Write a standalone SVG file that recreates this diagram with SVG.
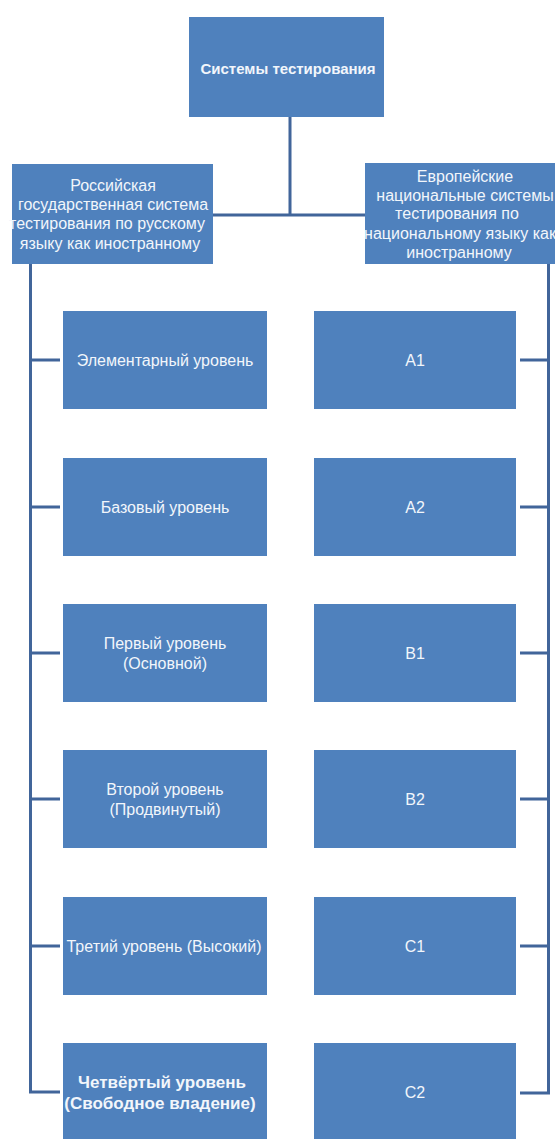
<svg xmlns="http://www.w3.org/2000/svg" width="555" height="1139" viewBox="0 0 555 1139">
<style>
.box{fill:#4F81BD;}
.t{font-family:"Liberation Sans",Arial,sans-serif;font-size:16px;fill:#F2F6FB;text-anchor:middle;dominant-baseline:central;}
.b{font-weight:bold;font-size:15px;}
.b2{font-weight:bold;font-size:17px;}
.c{fill:none;stroke:#41659A;stroke-width:3;}
</style>
<rect width="555" height="1139" fill="#fff"/>
<g id="connectors">
<path class="c" d="M290,117 V215 M213,215 H365"/>
<path class="c" d="M30.5,264 V1092 H60 M30.5,360 H60 M30.5,507 H60 M30.5,653 H60 M30.5,799 H60 M30.5,946 H60"/>
<path class="c" d="M548.5,264 V1093 H520 M548.5,360 H520 M548.5,507 H520 M548.5,653 H520 M548.5,799 H520 M548.5,946 H520"/>
</g>
<g id="root"><rect class="box" x="189" y="17" width="195" height="100"/><text class="t b" x="288" y="68">Системы тестирования</text></g>
<g id="ru"><rect class="box" x="12" y="164" width="201" height="100"/>
<text class="t"><tspan x="113" y="185">Российская</tspan><tspan x="113" y="204">государственная система</tspan><tspan x="107" y="223">тестирования по русскому</tspan><tspan x="110" y="243">языку как иностранному</tspan></text></g>
<g id="eu"><rect class="box" x="365" y="163" width="200" height="101"/>
<text class="t"><tspan x="465" y="176">Европейские</tspan><tspan x="465" y="195">национальные системы</tspan><tspan x="457" y="213">тестирования по</tspan><tspan x="460" y="233">национальному языку как</tspan><tspan x="459" y="252">иностранному</tspan></text></g>
<g id="l1"><rect class="box" x="63" y="311" width="204" height="98"/><text class="t" x="165" y="360">Элементарный уровень</text></g>
<g id="l2"><rect class="box" x="63" y="458" width="204" height="98"/><text class="t" x="165" y="507">Базовый уровень</text></g>
<g id="l3"><rect class="box" x="63" y="604" width="204" height="98"/><text class="t"><tspan x="165" y="643">Первый уровень</tspan><tspan x="165" y="663">(Основной)</tspan></text></g>
<g id="l4"><rect class="box" x="63" y="750" width="204" height="98"/><text class="t"><tspan x="165" y="789">Второй уровень</tspan><tspan x="165" y="809">(Продвинутый)</tspan></text></g>
<g id="l5"><rect class="box" x="63" y="897" width="204" height="98"/><text class="t" x="164" y="946">Третий уровень (Высокий)</text></g>
<g id="l6"><rect class="box" x="63" y="1043" width="204" height="98"/><text class="t b2"><tspan x="162" y="1082">Четвёртый уровень</tspan><tspan x="160" y="1103">(Свободное владение)</tspan></text></g>
<g id="a1"><rect class="box" x="314" y="311" width="202" height="98"/><text class="t" x="415" y="360">A1</text></g>
<g id="a2"><rect class="box" x="314" y="458" width="202" height="98"/><text class="t" x="415" y="507">A2</text></g>
<g id="b1"><rect class="box" x="314" y="604" width="202" height="98"/><text class="t" x="415" y="653">B1</text></g>
<g id="b2"><rect class="box" x="314" y="750" width="202" height="98"/><text class="t" x="415" y="799">B2</text></g>
<g id="c1"><rect class="box" x="314" y="897" width="202" height="98"/><text class="t" x="415" y="946">C1</text></g>
<g id="c2"><rect class="box" x="314" y="1043" width="202" height="98"/><text class="t" x="415" y="1092">C2</text></g>
</svg>
